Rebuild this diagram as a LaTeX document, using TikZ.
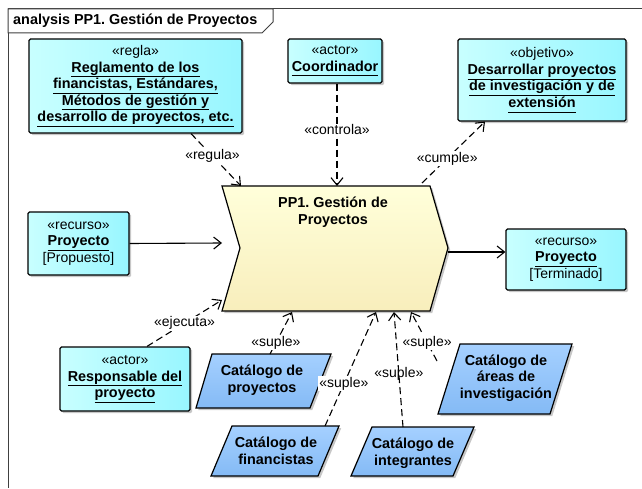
\documentclass[tikz,border=0pt]{standalone}
\usepackage{fontspec}
\setmainfont{Liberation Sans}
\usetikzlibrary{arrows.meta,shadows}
\definecolor{cyanA}{HTML}{98F6FF}
\definecolor{cyanB}{HTML}{C8FFFF}
\definecolor{procA}{HTML}{FFFFDA}
\definecolor{procB}{HTML}{F8EEBC}
\definecolor{catA}{HTML}{A5D0FF}
\definecolor{catB}{HTML}{84BAF5}
\definecolor{frameC}{HTML}{404040}
\newcommand\fsr{\fontsize{14}{16.5}\selectfont}
\newcommand\fsb{\fontsize{14.4}{16.5}\selectfont\bfseries}
\newcommand\nm[1]{{\fsb\underline{#1\vphantom{gy}}}}
\frenchspacing
\begin{document}
\begin{tikzpicture}[x=1pt,y=-1pt,
  shd/.style={drop shadow={shadow xshift=2.2pt,shadow yshift=-2.2pt,fill=black,opacity=0.22}},
  box/.style={draw=black,line width=1.2pt,rounded corners=1.5pt,left color=cyanB,right color=cyanA,
    align=center,inner sep=0pt,font=\fsr,shd},
  procshape/.style={draw=black,line width=1.2pt,top color=procA,bottom color=procB,shd},
  catshape/.style={draw=black,line width=1.2pt,top color=catA,bottom color=catB,shd},
  cattext/.style={align=center,font=\fsb,inner sep=0pt},
  dep/.style={dash pattern=on 7pt off 4pt,line width=1.1pt,-{Straight Barb[length=7.5pt,width=12pt,line width=1.1pt]}},
  flow/.style={line width=1.1pt,-{Straight Barb[length=7.5pt,width=12pt,line width=1.1pt]}},
  lbl/.style={font=\fsr,fill=white,inner sep=1pt},
  lbln/.style={font=\fsr,inner sep=1pt}
]
\useasboundingbox (0,0) rectangle (642,489);
% frame
\draw[frameC,line width=1pt] (642,9) -- (8,9) -- (8,488);
\draw[frameC,line width=1pt,fill=white] (8,9) -- (273,9) -- (273,22) -- (262,33) -- (8,33) -- cycle;
\node[anchor=west,font=\fsb,inner sep=0pt] (title) at (13,21) {analysis PP1. Gestión de Proyectos};

% boxes
\node[box,minimum width=213pt,minimum height=94pt] (regla) at (135.5,86)
  {«regla»\\ \nm{Reglamento de los}\\ \nm{financistas, Estándares,}\\ \nm{Métodos de gestión y}\\ \nm{desarrollo de proyectos, etc.}};
\node[box,minimum width=94pt,minimum height=44pt] (coord) at (335,61)
  {«actor»\\ \nm{Coordinador}};
\node[box,minimum width=168pt,minimum height=82pt] (obj) at (542,80)
  {«objetivo»\\ \nm{Desarrollar proyectos}\\ \nm{de investigación y de}\\ \nm{extensión}};
\node[box,minimum width=101pt,minimum height=63pt] (prop) at (78.5,243.5)
  {«recurso»\\ \nm{Proyecto}\\ {[Propuesto]}};
\node[box,minimum width=120pt,minimum height=61pt] (term) at (566,259.5)
  {«recurso»\\ \nm{Proyecto}\\ {[Terminado]}};
\node[box,minimum width=130pt,minimum height=64pt] (resp) at (125,379)
  {«actor»\\ \nm{Responsable del}\\ \nm{proyecto}};

% process
\draw[procshape] (222,186) -- (430,186) -- (448,248) -- (430,311) -- (222,311) -- (240,248) -- cycle;
\node[cattext] (proc) at (333,212) {PP1. Gestión de\\Proyectos};
\coordinate (procTL) at (241,186);
\coordinate (procT) at (337,186);
\coordinate (procTR) at (422,183);
\coordinate (procL) at (222,243);
\coordinate (procR) at (448,252);
\coordinate (procBL) at (222,300);
\coordinate (procB1) at (292,312);
\coordinate (procB2) at (376,312);
\coordinate (procB3) at (394,312);
\coordinate (procB4) at (411,312);

% catalogues
\draw[catshape] (212,354) -- (331,354) -- (310,408) -- (196,408) -- cycle;
\node[cattext] (cproy) at (262,380) {Catálogo de\\proyectos};
\draw[catshape] (232,426) -- (339,426) -- (318,476) -- (211,476) -- cycle;
\node[cattext] (cfin) at (276,451) {Catálogo de\\financistas};
\draw[catshape] (372,427) -- (474,427) -- (453,476) -- (351,476) -- cycle;
\node[cattext] (cint) at (413,453) {Catálogo de\\integrantes};
\draw[catshape] (460,344) -- (572,344) -- (550,414) -- (438,414) -- cycle;
\node[cattext] (care) at (506,378) {Catálogo de\\áreas de\\investigación};
\coordinate (cproyT) at (270,354);
\coordinate (cfinT) at (325,426);
\coordinate (cintT) at (403,427);
\coordinate (careT) at (437,361);

% connectors
\draw[dep] (regla.south -| 191,0) -- (procTL) node[lbl,pos=0.43] {«regula»};
\draw[dep] (coord.south -| procT) -- (procT) node[lbl,pos=0.45] {«controla»};
\draw[dep] (procTR) -- (obj.south -| 485,0) node[lbl,pos=0.4] {«cumple»};
\draw[flow] (prop.east) -- (procL);
\draw[flow] (procR) -- (term.west |- procR);
\draw[dep] (resp.north -| 147,0) -- (procBL) node[lbl,pos=0.5] {«ejecuta»};
\draw[dep] (cproyT) -- (procB1) node[lbl,pos=0.27] {«suple»};
\draw[dep] (cfinT) -- (procB2) node[lbl,pos=0.37] {«suple»};
\draw[dep] (cintT) -- (procB3) node[lbln,pos=0.46] {«suple»};
\draw[dep] (careT) -- (procB4) node[lbl,pos=0.38] {«suple»};
\end{tikzpicture}
\end{document}
